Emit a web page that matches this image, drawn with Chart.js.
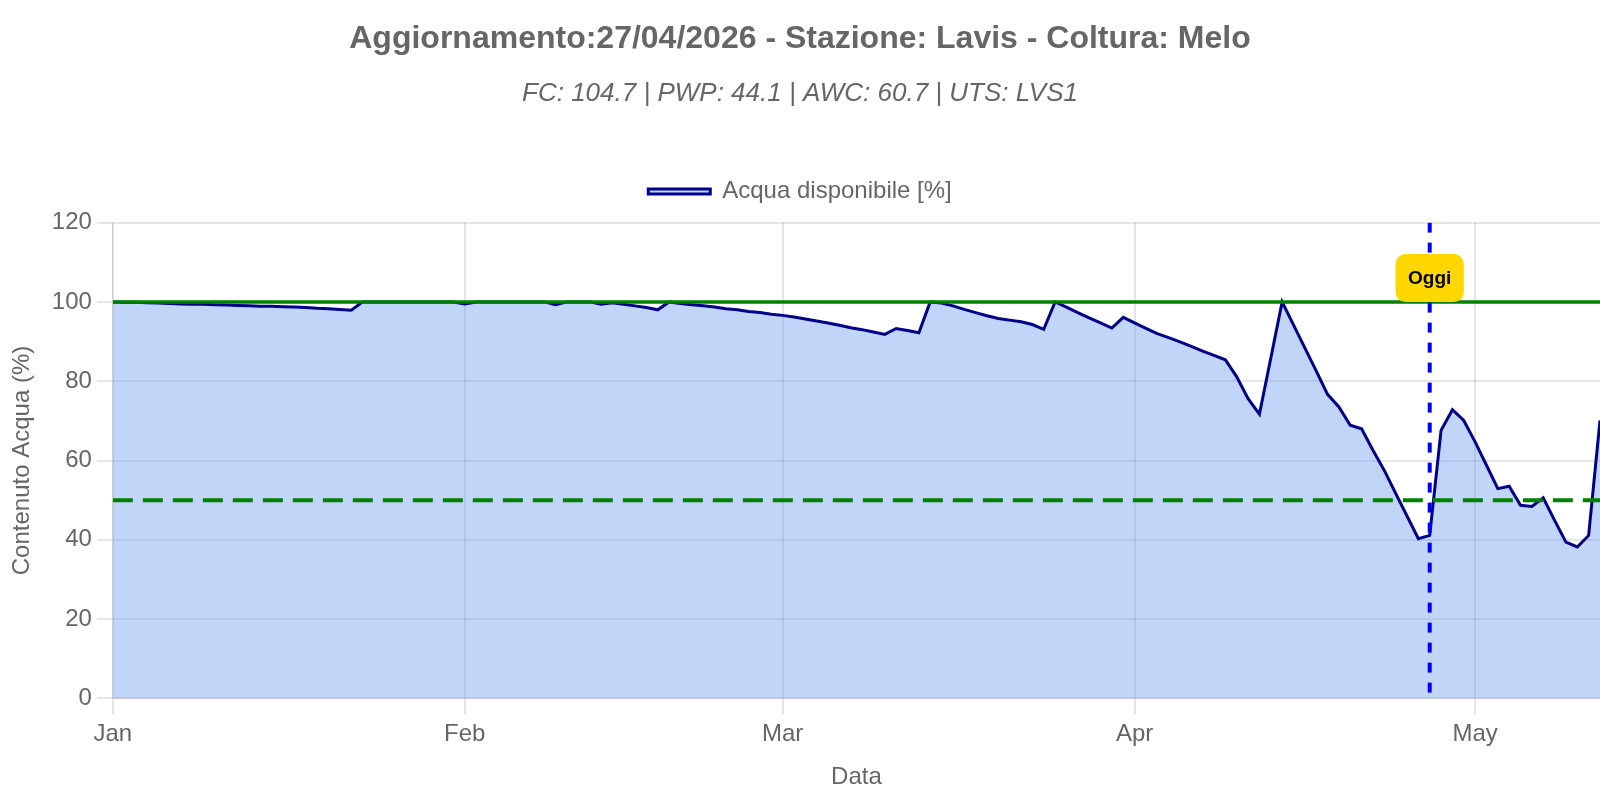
<!DOCTYPE html>
<html>
<head>
<meta charset="utf-8">
<title>Acqua disponibile - Lavis</title>
<script src="https://cdn.jsdelivr.net/npm/chart.js@4.4.1/dist/chart.umd.min.js"></script>
<style>
  html, body { margin: 0; padding: 0; background: #fff; }
  #wrap { position: relative; width: 1600px; height: 800px; }
</style>
</head>
<body>
<div id="wrap"><canvas id="chart"></canvas></div>
<script>
// giorni dall'1 gennaio 2026
const monthTicks = [0, 31, 59, 90, 120];
const monthLabels = ['Jan', 'Feb', 'Mar', 'Apr', 'May'];
const lastDay = 131;
const todayDay = 116; // 27/04

// Acqua disponibile [%] giorno per giorno
const waterValues = [
  100, 99.9, 99.9, 99.8, 99.7, 99.6, 99.5, 99.4, 99.4, 99.3,
  99.2, 99.1, 99.0, 98.9, 98.9, 98.8, 98.7, 98.6, 98.4, 98.3,
  98.1, 97.9, 100, 100, 100, 100, 100, 100, 100, 100,
  100, 99.5, 100, 100, 100, 100, 100, 100, 100, 99.3,
  100, 100, 100, 99.4, 99.8, 99.4, 99.0, 98.6, 98.0, 100,
  99.6, 99.3, 99.0, 98.7, 98.3, 98.0, 97.6, 97.3, 96.9, 96.6,
  96.2, 95.7, 95.2, 94.7, 94.1, 93.5, 93.0, 92.4, 91.8, 93.3,
  92.8, 92.2, 100, 99.7, 99.0, 98.1, 97.3, 96.5, 95.8, 95.4,
  95.0, 94.3, 93.1, 100, 98.7, 97.3, 96.0, 94.7, 93.4, 96.1,
  94.7, 93.3, 92.0, 91.0, 89.9, 88.8, 87.6, 86.5, 85.4, 81.1,
  75.6, 71.7, 85.8, 100, 94.2, 88.4, 82.6, 76.7, 73.5, 68.9,
  68.0, 62.6, 57.5, 51.7, 46.0, 40.3, 41.1, 67.6, 72.8, 70.1,
  64.7, 58.8, 52.9, 53.5, 48.7, 48.4, 50.6, 44.9, 39.4, 38.2,
  41.1, 70.1
];

const fcLevel = 100;
const thresholdLevel = 50;
const yTicks = [0, 20, 40, 60, 80, 100, 120];

const titleText = 'Aggiornamento:27/04/2026 - Stazione: Lavis - Coltura: Melo';
const subtitleText = 'FC: 104.7 | PWP: 44.1 | AWC: 60.7 | UTS: LVS1';

Chart.defaults.font.family = "'Liberation Sans', Arial, sans-serif";
Chart.defaults.color = '#666';

// un po' di spazio tra legenda e grafico
const legendGap = {
  id: 'legendGap',
  beforeInit(chart) {
    const fit = chart.legend.fit;
    chart.legend.fit = function () {
      fit.bind(chart.legend)();
      this.height += 9;
    };
  }
};

// linee di riferimento + marcatore "Oggi"
const refLines = {
  id: 'refLines',
  afterDatasetsDraw(chart) {
    const { ctx, chartArea: a, scales: { x, y } } = chart;
    ctx.save();
    ctx.beginPath();
    ctx.rect(a.left, a.top, a.right - a.left, a.bottom - a.top);
    ctx.clip();

    const hline = (value, color, width, dash) => {
      const py = y.getPixelForValue(value);
      ctx.beginPath();
      ctx.setLineDash(dash);
      ctx.strokeStyle = color;
      ctx.lineWidth = width;
      ctx.moveTo(a.left, py);
      ctx.lineTo(a.right, py);
      ctx.stroke();
    };
    hline(fcLevel, 'green', 3.5, []);
    hline(thresholdLevel, 'green', 4, [20, 10]);

    const tx = x.getPixelForValue(todayDay);
    ctx.beginPath();
    ctx.setLineDash([10, 10]);
    ctx.strokeStyle = 'blue';
    ctx.lineWidth = 4;
    ctx.moveTo(tx, a.top);
    ctx.lineTo(tx, a.bottom);
    ctx.stroke();

    // etichetta
    ctx.setLineDash([]);
    ctx.font = "bold 19px 'Liberation Sans', Arial, sans-serif";
    const tw = ctx.measureText('Oggi').width;
    const bw = tw + 25, bh = 48;
    const cy = y.getPixelForValue(106);
    ctx.beginPath();
    ctx.fillStyle = 'gold';
    ctx.roundRect(tx - bw / 2, cy - bh / 2, bw, bh, 10);
    ctx.fill();
    ctx.fillStyle = '#000';
    ctx.textAlign = 'center';
    ctx.textBaseline = 'middle';
    ctx.fillText('Oggi', tx, cy + 1);
    ctx.restore();
  }
};

new Chart(document.getElementById('chart'), {
  type: 'line',
  data: {
    datasets: [{
      label: 'Acqua disponibile [%]',
      data: waterValues.map((v, i) => ({ x: i, y: v })),
      borderColor: 'darkblue',
      backgroundColor: 'rgba(100, 149, 237, 0.4)',
      borderWidth: 3,
      fill: 'origin',
      tension: 0,
      pointRadius: 0
    }]
  },
  options: {
    responsive: true,
    maintainAspectRatio: false,
    animation: false,
    plugins: {
      title: {
        display: true,
        text: titleText,
        font: { size: 32, weight: 'bold' },
        padding: { top: 20, bottom: 10 }
      },
      subtitle: {
        display: true,
        text: subtitleText,
        font: { size: 26, style: 'italic' },
        padding: { top: 10, bottom: 60 }
      },
      legend: {
        position: 'top',
        labels: {
          font: { size: 24 },
          boxWidth: 62,
          boxHeight: 5
        }
      },
      tooltip: { enabled: false }
    },
    scales: {
      x: {
        type: 'linear',
        min: 0,
        max: lastDay,
        afterBuildTicks: axis => {
          axis.ticks = monthTicks.map(v => ({ value: v }));
        },
        ticks: {
          font: { size: 24 },
          padding: 6,
          maxRotation: 0,
          callback: value => monthLabels[monthTicks.indexOf(value)]
        },
        grid: { lineWidth: 2, tickLength: 16 },
        title: {
          display: true,
          text: 'Data',
          font: { size: 24 },
          padding: { top: 8, bottom: 8 }
        }
      },
      y: {
        min: 0,
        max: 120,
        afterBuildTicks: axis => {
          axis.ticks = yTicks.map(v => ({ value: v }));
        },
        ticks: { font: { size: 24 }, padding: 5 },
        grid: { lineWidth: 2, tickLength: 16 },
        title: {
          display: true,
          text: 'Contenuto Acqua (%)',
          font: { size: 24 },
          padding: { top: 8, bottom: 10 }
        }
      }
    }
  },
  plugins: [legendGap, refLines]
});
</script>
</body>
</html>
